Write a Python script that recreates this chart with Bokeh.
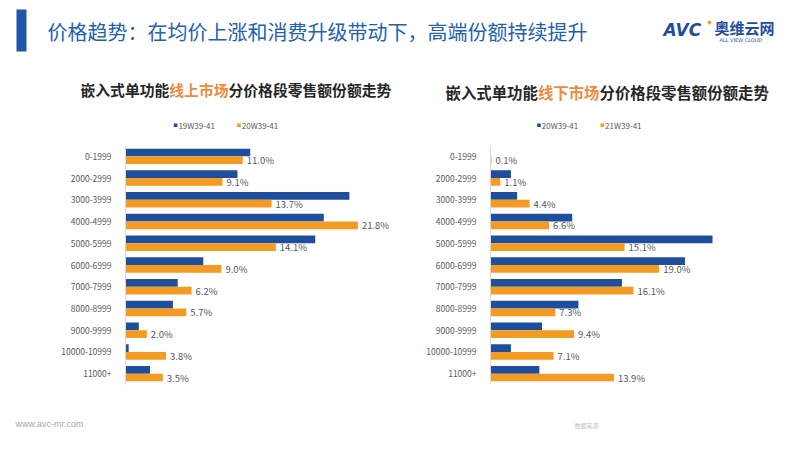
from bokeh.plotting import figure
from bokeh.models import Range1d, FactorRange, ColumnDataSource
from bokeh.transform import dodge
from bokeh.layouts import column, row
from bokeh.core.properties import value
from bokeh.embed import file_html
from bokeh.resources import INLINE

# ---------------- data ----------------
categories = ["0-1999", "2000-2999", "3000-3999", "4000-4999", "5000-5999",
              "6000-6999", "7000-7999", "8000-8999", "9000-9999",
              "10000-10999", "11000+"]
online_19w = [11.7, 10.5, 21.0, 18.6, 17.8, 7.3, 4.9, 4.45, 1.25, 0.3, 2.3]
online_20w = [11.0, 9.1, 13.7, 21.8, 14.1, 9.0, 6.2, 5.7, 2.0, 3.8, 3.5]
offline_20w = [0.0, 2.3, 3.0, 9.2, 25.0, 21.9, 14.8, 9.9, 5.8, 2.3, 5.5]
offline_21w = [0.1, 1.1, 4.4, 6.6, 15.1, 19.0, 16.1, 7.3, 9.4, 7.1, 13.9]
online_series = ["19W39-41", "20W39-41"]
offline_series = ["20W39-41", "21W39-41"]

main_title = "价格趋势：在均价上涨和消费升级带动下，高端份额持续提升"
left_title = ["嵌入式单功能", "线上市场", "分价格段零售额份额走势"]
right_title = ["嵌入式单功能", "线下市场", "分价格段零售额份额走势"]

BLUE = "#1F4E9D"
ORANGE = "#F39B22"
TITLE_BLUE = "#2360AE"
TXT = "#595959"
CJK = "Noto Sans CJK SC"

# ---------------- header ----------------
h = figure(width=800, height=132, x_range=Range1d(0, 800), y_range=Range1d(132, 0),
           min_border=0, x_axis_location=None, y_axis_location=None,
           toolbar_location=None, output_backend="svg")
h.outline_line_color = None
h.grid.visible = False

h.quad(left=[16], right=[26], top=[9], bottom=[51], color="#1F56A8", line_color=None)
h.text(x=[47], y=[31], text=[main_title], text_font=value(CJK), text_font_size="20px",
       text_color=TITLE_BLUE, text_baseline="middle", text_align="left")

# logo
h.text(x=[663], y=[29], text=["AVC"], text_font=value("DejaVu Sans"), text_font_size="17px",
       text_font_style="bold italic", text_color="#1F4E9D", text_baseline="middle")
h.scatter(x=[709], y=[22], size=3, color="#F39B22")
h.text(x=[714], y=[27], text=["奥维云网"], text_font=value(CJK), text_font_size="15px",
       text_font_style="bold", text_color="#1F4E9D", text_baseline="middle")
h.text(x=[719], y=[39], text=["ALL VIEW CLOUD"], text_font=value("DejaVu Sans"),
       text_font_size="5px", text_color="#1F4E9D", text_baseline="middle")


def title_parts(x0, y, parts, fs):
    x = x0
    cols = ["#262626", "#F08A3E", "#262626"]
    for part, c in zip(parts, cols):
        h.text(x=[x], y=[y], text=[part], text_font=value(CJK), text_font_size=f"{fs}px",
               text_font_style="bold", text_color=c, text_baseline="middle", text_align="left")
        x += len(part) * fs


title_parts(80, 88.5, left_title, 14.8)
title_parts(445, 91, right_title, 15.4)


def legend(xs, labels):
    for (x, lab), c in zip(zip(xs, labels), [BLUE, ORANGE]):
        h.quad(left=[x], right=[x + 3.6], top=[122.9], bottom=[126.5], color=c, line_color=None)
        h.text(x=[x + 4.6], y=[125], text=[lab], text_font=value(CJK), text_font_size="8px",
               text_color=TXT, text_baseline="middle", text_align="left")


legend([173.3, 236.7], online_series)
legend([536.7, 600.0], offline_series)


# ---------------- charts ----------------
def chart(a, b, xmax, mb_left, mb_top, mb_bottom, mb_right):
    src = ColumnDataSource(dict(cat=categories, a=a, b=b,
                                lab=[f"{v:.1f}%" for v in b]))
    p = figure(width=400, height=268, y_range=FactorRange(factors=categories[::-1]),
               x_range=Range1d(0, xmax), x_axis_location=None,
               min_border_left=mb_left, min_border_top=mb_top,
               min_border_bottom=mb_bottom, min_border_right=mb_right,
               toolbar_location=None, output_backend="svg")
    p.outline_line_color = None
    p.grid.visible = False
    p.hbar(y=dodge("cat", 0.178, range=p.y_range), right="a", height=0.355,
           source=src, color=BLUE, line_color=None)
    p.hbar(y=dodge("cat", -0.178, range=p.y_range), right="b", height=0.355,
           source=src, color=ORANGE, line_color=None)
    p.text(x="b", y=dodge("cat", -0.178, range=p.y_range), text="lab", source=src,
           x_offset=4, text_font=value(CJK), text_font_size="9.5px", text_color=TXT,
           text_baseline="middle", text_align="left")
    ax = p.yaxis[0]
    ax.axis_line_color = "#D9D9D9"
    ax.major_tick_line_color = None
    ax.minor_tick_line_color = None
    ax.major_label_standoff = 8
    ax.major_label_text_font = CJK
    ax.major_label_text_font_size = "8.5px"
    ax.major_label_text_color = TXT
    return p


left = chart(online_19w, online_20w, 267 / 10.66, 125, 5, 16, 8)
right = chart(offline_20w, offline_21w, 296 / 8.88, 90, 13, 12, 14)

# ---------------- footer ----------------
f = figure(width=800, height=50, x_range=Range1d(0, 800), y_range=Range1d(450, 400),
           min_border=0, x_axis_location=None, y_axis_location=None,
           toolbar_location=None, output_backend="svg")
f.outline_line_color = None
f.grid.visible = False
f.text(x=[15], y=[423], text=["www.avc-mr.com"], text_font=value("Liberation Sans"),
       text_font_size="9px", text_color="#A6A6A6", text_baseline="middle")
f.text(x=[574], y=[425], text=["数据来源"], text_font=value(CJK),
       text_font_size="6px", text_color="#BFBFBF", text_baseline="middle")

layout = column(h, row(left, right), f)
open("out.html", "w").write(file_html(layout, INLINE))
